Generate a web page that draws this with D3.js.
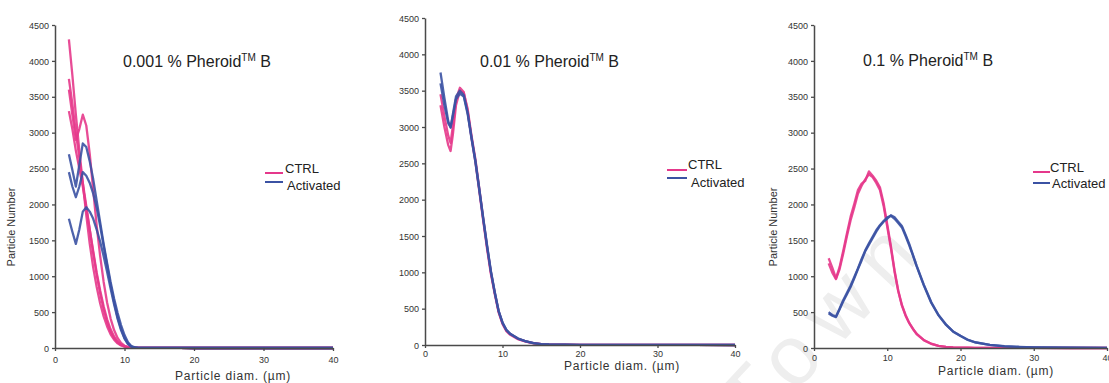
<!DOCTYPE html>
<html>
<head>
<meta charset="utf-8">
<script src="https://cdnjs.cloudflare.com/ajax/libs/d3/7.8.5/d3.min.js"></script>
<style>
  html, body { margin: 0; padding: 0; background: #fff; }
  svg { display: block; font-family: "Liberation Sans", Arial, sans-serif; }
</style>
</head>
<body>
<svg id="chart" width="1109" height="383"></svg>
<script>
// ---- data ---------------------------------------------------------------
const yTicks = [0, 500, 1000, 1500, 2000, 2500, 3000, 3500, 4000, 4500];
const xTicks = [0, 10, 20, 30, 40];
const seriesNames = ["CTRL", "Activated"];
const panelTitles = ["0.001 % Pheroid", "0.01 % Pheroid", "0.1 % Pheroid"];

// 0.001 % Pheroid B
const diam1 = [2, 2.5, 3, 3.5, 4, 4.5, 5, 5.5, 6, 6.5, 7, 7.5, 8, 8.5, 9, 9.5, 10, 10.5, 11, 11.5, 12, 14, 16, 18, 20, 25, 30, 35, 40];
const ctrl1a = [4300, 3800, 3250, 2750, 2300, 1850, 1450, 1120, 850, 620, 440, 300, 190, 115, 65, 35, 18, 9, 5, 3, 2, 1, 1, 1, 0, 0, 0, 0, 0];
const ctrl1b = [3750, 3400, 3000, 2650, 2300, 1980, 1650, 1320, 1020, 760, 540, 360, 230, 140, 80, 42, 22, 11, 6, 3, 2, 1, 1, 1, 0, 0, 0, 0, 0];
const ctrl1c = [3600, 3250, 2900, 3050, 3250, 3100, 2700, 2200, 1700, 1280, 920, 630, 410, 250, 140, 70, 32, 14, 7, 4, 2, 1, 1, 1, 0, 0, 0, 0, 0];
const ctrl1d = [3300, 3050, 2750, 2500, 2250, 1950, 1650, 1350, 1050, 800, 580, 400, 260, 160, 90, 48, 24, 12, 6, 3, 2, 1, 1, 1, 0, 0, 0, 0, 0];
const act1a = [2700, 2480, 2250, 2550, 2850, 2800, 2600, 2350, 2050, 1750, 1450, 1180, 920, 690, 490, 320, 180, 80, 25, 8, 3, 1, 1, 1, 0, 0, 0, 0, 0];
const act1b = [1800, 1620, 1450, 1650, 1900, 1960, 1900, 1800, 1650, 1480, 1280, 1060, 830, 610, 410, 250, 130, 55, 18, 6, 2, 1, 1, 1, 0, 0, 0, 0, 0];
const act1c = [2450, 2250, 2100, 2250, 2450, 2400, 2300, 2150, 1950, 1700, 1420, 1150, 880, 640, 430, 270, 140, 60, 20, 7, 2, 1, 1, 1, 0, 0, 0, 0, 0];

// 0.01 % Pheroid B
const diam2 = [2, 2.5, 3, 3.3, 3.6, 4, 4.5, 5, 5.5, 6, 6.5, 7, 7.5, 8, 8.5, 9, 9.5, 10, 10.5, 11, 12, 13, 14, 15, 16, 18, 20, 25, 30, 35, 40];
const ctrl2a = [3300, 3000, 2750, 2670, 2900, 3300, 3500, 3470, 3250, 2880, 2560, 2160, 1750, 1360, 1000, 720, 460, 300, 200, 150, 85, 50, 25, 12, 6, 4, 3, 2, 1, 1, 0];
const ctrl2b = [3450, 3150, 2880, 2780, 3020, 3380, 3540, 3480, 3220, 2850, 2520, 2120, 1720, 1330, 980, 700, 450, 290, 190, 140, 80, 46, 24, 12, 6, 4, 3, 2, 1, 1, 0];
const act2a = [3750, 3400, 3080, 2990, 3180, 3420, 3500, 3440, 3200, 2860, 2540, 2150, 1760, 1380, 1020, 730, 470, 310, 210, 155, 90, 52, 27, 13, 7, 4, 3, 2, 1, 1, 0];
const act2b = [3600, 3300, 3050, 3000, 3150, 3380, 3460, 3420, 3180, 2840, 2520, 2140, 1740, 1360, 1010, 720, 465, 305, 205, 150, 88, 50, 26, 13, 7, 4, 3, 2, 1, 1, 0];

// 0.1 % Pheroid B
const diam3 = [2, 2.5, 3, 3.5, 4, 4.5, 5, 5.5, 6, 6.5, 7, 7.5, 8, 8.5, 9, 9.5, 10, 10.5, 11, 11.5, 12, 12.5, 13, 13.5, 14, 15, 16, 17, 18, 19, 20, 21, 22, 24, 26, 28, 30, 35, 40];
const ctrl3a = [1250, 1120, 970, 1130, 1360, 1600, 1830, 2010, 2200, 2290, 2330, 2460, 2400, 2330, 2240, 2020, 1720, 1420, 1080, 800, 600, 460, 350, 270, 200, 110, 60, 30, 15, 9, 6, 4, 3, 2, 1, 1, 1, 0, 0];
const ctrl3b = [1180, 1050, 960, 1100, 1320, 1560, 1780, 1960, 2150, 2260, 2350, 2420, 2380, 2300, 2200, 1980, 1690, 1390, 1060, 790, 590, 450, 345, 265, 195, 108, 58, 29, 15, 9, 6, 4, 3, 2, 1, 1, 1, 0, 0];
const act3a = [480, 450, 430, 540, 650, 750, 850, 970, 1100, 1220, 1350, 1440, 1530, 1620, 1700, 1760, 1800, 1850, 1820, 1760, 1700, 1580, 1450, 1300, 1150, 880, 640, 460, 330, 230, 170, 115, 80, 45, 25, 15, 10, 4, 2];
const act3b = [500, 460, 440, 550, 670, 770, 870, 990, 1110, 1240, 1360, 1460, 1550, 1640, 1710, 1770, 1820, 1840, 1800, 1740, 1680, 1560, 1430, 1290, 1140, 870, 630, 455, 325, 228, 168, 113, 78, 44, 24, 15, 9, 4, 2];

// ---- layout & style ----------------------------------------------------
const COLORS = { CTRL: "#e5388b", Activated: "#3b52a3" };
const AXIS_COLOR = "#4a4a4a";

const panels = [
  { title: panelTitles[0], diam: diam1,
    ctrl: [ctrl1a, ctrl1b, ctrl1c, ctrl1d], act: [act1a, act1b, act1c],
    x0: 55, x1: 333, yTop: 25, yBot: 348, xPad: 6,
    titleX: 123, titleY: 67, yTitle: { x: 15, y: 227 },
    xTitle: { x: 233, y: 380 },
    legend: { lx: 265, lw: 18, cy: 173, ay: 182, ctx: 285, cty: 173, atx: 287, aty: 190 } },
  { title: panelTitles[1], diam: diam2,
    ctrl: [ctrl2a, ctrl2b], act: [act2a, act2b],
    x0: 425, x1: 735, yTop: 18, yBot: 345, xPad: 3,
    titleX: 480, titleY: 67, yTitle: null,
    xTitle: { x: 622, y: 370 },
    legend: { lx: 667, lw: 20, cy: 170, ay: 178, ctx: 688, cty: 169, atx: 691, aty: 187 } },
  { title: panelTitles[2], diam: diam3,
    ctrl: [ctrl3a, ctrl3b], act: [act3a, act3b],
    x0: 814, x1: 1107, yTop: 25, yBot: 348, xPad: 4,
    titleX: 863, titleY: 66, yTitle: { x: 777, y: 227 },
    xTitle: { x: 996, y: 375 },
    legend: { lx: 1033, lw: 17, cy: 172, ay: 183, ctx: 1050, cty: 172, atx: 1052, aty: 188 } }
];

const svg = d3.select("#chart");
svg.append("rect").attr("width", 1109).attr("height", 383).attr("fill", "#fff");

// faint diagonal watermark behind the plots
svg.append("text")
  .attr("transform", "translate(755,436) rotate(-47)")
  .attr("font-size", 84)
  .attr("letter-spacing", 16)
  .attr("fill", "#eeeeee")
  .text("Town");

panels.forEach(p => {
  const g = svg.append("g");
  const x = d3.scaleLinear().domain([0, 40]).range([p.x0, p.x1]);
  const y = d3.scaleLinear().domain([0, 4500]).range([p.yBot, p.yTop]);

  const line = d3.line()
    .x(d => x(d[0]))
    .y(d => y(d[1]))
    .curve(d3.curveLinear);

  // curves: control replicates first, activated on top
  const drawSet = (sets, color) => sets.forEach(vals => {
    g.append("path")
      .datum(p.diam.map((d, i) => [d, vals[i]]))
      .attr("fill", "none")
      .attr("stroke", color)
      .attr("stroke-width", 2.3)
      .attr("stroke-linejoin", "round")
      .attr("stroke-opacity", 0.9)
      .attr("d", line);
  });
  drawSet(p.ctrl, COLORS.CTRL);
  drawSet(p.act, COLORS.Activated);

  // axes
  const fmt = d3.format("d");
  const yAxis = g.append("g")
    .attr("transform", `translate(${p.x0},0)`)
    .call(d3.axisLeft(y).tickValues(yTicks).tickFormat(fmt).tickSize(3).tickSizeOuter(0).tickPadding(3));
  const xAxis = g.append("g")
    .attr("transform", `translate(0,${p.yBot})`)
    .call(d3.axisBottom(x).tickValues(xTicks).tickFormat(fmt).tickSize(3).tickSizeOuter(0).tickPadding(p.xPad));
  [yAxis, xAxis].forEach(a => {
    a.select(".domain").attr("stroke", AXIS_COLOR).attr("stroke-width", 1.5);
    a.selectAll(".tick line").attr("stroke", AXIS_COLOR).attr("stroke-width", 1.3);
    a.selectAll(".tick text")
      .attr("fill", "#333")
      .attr("font-size", 9)
      .attr("font-family", "Liberation Sans, Arial, sans-serif");
  });
  yAxis.selectAll(".tick text").attr("dy", "0.35em");

  // panel title with superscript trademark
  const t = g.append("text")
    .attr("x", p.titleX).attr("y", p.titleY)
    .attr("font-size", 16).attr("fill", "#222");
  t.append("tspan").text(p.title);
  t.append("tspan").attr("font-size", 10).attr("dy", -6).text("TM");
  t.append("tspan").attr("dy", 6).text(" B");

  // axis titles
  if (p.yTitle) {
    g.append("text")
      .attr("transform", `translate(${p.yTitle.x},${p.yTitle.y}) rotate(-90)`)
      .attr("text-anchor", "middle")
      .attr("font-size", 11).attr("fill", "#333")
      .text("Particle Number");
  }
  g.append("text")
    .attr("x", p.xTitle.x).attr("y", p.xTitle.y)
    .attr("text-anchor", "middle")
    .attr("font-size", 12).attr("letter-spacing", 0.8).attr("fill", "#333")
    .text("Particle diam. (µm)");

  // legend
  const L = p.legend;
  g.append("line").attr("x1", L.lx).attr("x2", L.lx + L.lw)
    .attr("y1", L.cy).attr("y2", L.cy)
    .attr("stroke", COLORS.CTRL).attr("stroke-width", 2);
  g.append("line").attr("x1", L.lx).attr("x2", L.lx + L.lw)
    .attr("y1", L.ay).attr("y2", L.ay)
    .attr("stroke", COLORS.Activated).attr("stroke-width", 2);
  g.append("text").attr("x", L.ctx).attr("y", L.cty)
    .attr("font-size", 13).attr("fill", "#222").text(seriesNames[0]);
  g.append("text").attr("x", L.atx).attr("y", L.aty)
    .attr("font-size", 13).attr("fill", "#222").text(seriesNames[1]);
});
</script>
</body>
</html>
